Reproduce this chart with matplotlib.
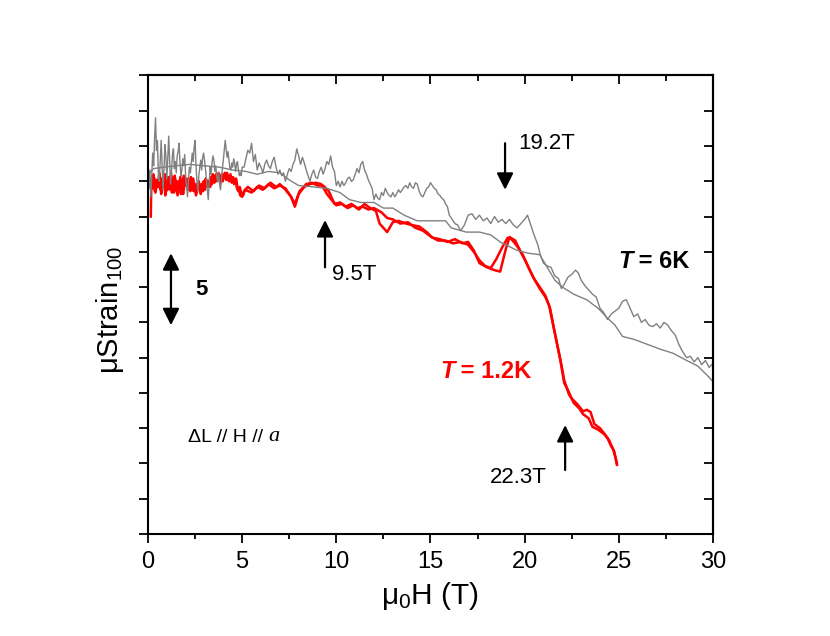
import matplotlib
matplotlib.use("Agg")
import matplotlib.pyplot as plt
from matplotlib.ticker import MultipleLocator, NullFormatter

plt.rcParams['font.family'] = ['Liberation Sans', 'DejaVu Sans']
plt.rcParams['mathtext.fontset'] = 'custom'
plt.rcParams['mathtext.rm'] = 'Liberation Sans'
plt.rcParams['mathtext.it'] = 'Liberation Sans:italic'
plt.rcParams['mathtext.bf'] = 'Liberation Sans:bold'

# T = 1.2K, up sweep (field in T, strain, 2 ticks = 5)
red_up_x = [0.15, 0.18, 0.25, 0.32, 0.4, 0.48, 0.55, 0.62, 0.7, 0.78, 0.85, 0.92, 1.0, 1.08, 1.15,
            1.22, 1.3, 1.38, 1.45, 1.52, 1.6, 1.68, 1.75, 1.82, 1.9, 1.98, 2.05, 2.12, 2.2, 2.28,
            2.35, 2.42, 2.5, 2.58, 2.65, 2.72, 2.8, 2.88, 2.95, 3.02, 3.1, 3.18, 3.25, 3.32, 3.4,
            3.48, 3.55, 3.62, 3.7, 3.78, 3.85, 3.92, 4.0, 4.08, 4.15, 4.22, 4.3, 4.38, 4.45, 4.52,
            4.6, 4.68, 4.75, 4.82, 4.9, 5.0, 5.1, 5.3,
            5.6, 5.9, 6.2, 6.5, 6.8, 7.0, 7.3, 7.6, 7.8, 8.0, 8.3, 8.6, 8.9, 9.2, 9.5, 9.8,
            10.0, 10.3, 10.6, 10.9, 11.2, 11.5, 11.8, 12.1, 12.3, 12.7, 13.0, 13.3, 13.7,
            14.0, 14.4, 14.8, 15.1, 15.5, 15.9, 16.3, 16.7, 17.0, 17.3, 17.6, 18.0, 18.4,
            18.7, 19.0, 19.2, 19.5, 19.75, 20.1, 20.45, 20.8, 21.1, 21.3, 21.5, 21.7, 21.9,
            22.1, 22.3, 22.6, 22.9, 23.1, 23.4, 23.6, 23.9, 24.2, 24.4, 24.6, 24.75, 24.9]
red_up_y = [22.5, 25.2, 24.5, 25.3, 24.2, 25.0, 24.6, 25.5, 24.1, 24.9, 25.4, 24.0, 24.8, 25.3, 24.4,
            25.6, 24.9, 24.2, 25.1, 24.3, 25.0, 24.6, 24.1, 24.8, 25.4, 24.7, 25.2, 24.4, 24.9, 25.3,
            24.5, 24.3, 24.8, 24.2, 24.9, 24.5, 24.1, 24.7, 25.0, 24.4, 25.1, 24.6, 24.9, 25.3, 24.8,
            25.4, 25.0, 25.5, 25.1, 25.4, 24.9, 25.5, 25.2, 25.6, 25.1, 25.4, 25.0, 25.5, 24.9, 25.3,
            25.0, 25.2, 24.6, 24.4, 24.0, 23.9, 24.3, 24.6,
            24.3, 24.7, 24.5, 24.9, 24.6, 24.8, 24.4, 23.9, 23.2, 24.1, 24.6, 24.8, 24.9, 24.8, 24.1, 23.6,
            23.3, 23.4, 23.1, 23.3, 23.0, 23.4, 23.1, 22.9, 22.0, 21.4, 22.1, 22.2, 22.0,
            21.9, 21.8, 21.4, 21.0, 20.9, 20.7, 20.9, 20.6, 20.7, 20.1, 19.2, 18.9, 18.7,
            18.6, 20.2, 21.05, 20.8, 20.1, 19.2, 18.2, 17.4, 16.8, 16.2, 14.9, 13.6, 12.3,
            10.7, 10.2, 9.3, 8.9, 8.5, 8.2, 7.6, 7.4, 7.1, 6.8, 6.2, 5.9, 4.9]

# T = 1.2K, down sweep
red_dn_x = [0.2, 0.28, 0.36, 0.44, 0.52, 0.6, 0.67, 0.74, 0.82, 0.9, 0.97, 1.05, 1.12, 1.2, 1.27,
            1.35, 1.42, 1.5, 1.57, 1.65, 1.72, 1.8, 1.87, 1.95, 2.02, 2.1, 2.17, 2.25, 2.32, 2.4,
            2.47, 2.55, 2.62, 2.7, 2.77, 2.85, 2.92, 3.0, 3.07, 3.15, 3.22, 3.3, 3.37, 3.45, 3.52,
            3.6, 3.67, 3.75, 3.82, 3.9, 3.97, 4.05, 4.12, 4.2, 4.27, 4.35, 4.42, 4.5, 4.57, 4.65,
            4.72, 4.8, 4.87, 4.95, 5.05, 5.15, 5.5, 5.8,
            6.1, 6.4, 6.7, 7.0, 7.3, 7.55, 7.8, 8.05, 8.4, 8.7, 9.0, 9.3, 9.6, 9.9, 10.2,
            10.5, 10.8, 11.1, 11.4, 11.7, 12.0, 12.4, 12.7, 13.0, 13.4, 13.8, 14.2, 14.6,
            15.0, 15.4, 15.8, 16.2, 16.6, 17.0, 17.3, 17.6, 17.9, 18.2, 18.5, 18.8, 19.1,
            19.3, 19.6, 19.9, 20.2, 20.5, 20.8, 21.1, 21.35, 21.55, 21.75, 21.95, 22.1,
            22.35, 22.5, 22.8, 23.1, 23.3, 23.5, 23.7, 24.0, 24.3, 24.5, 24.7, 24.85, 24.9]
red_dn_y = [24.8, 25.5, 24.3, 25.1, 24.6, 25.6, 24.4, 25.2, 24.6, 25.5, 24.3, 25.0, 24.5, 25.3, 24.2,
            24.8, 25.4, 24.6, 24.0, 24.7, 25.3, 24.5, 24.1, 24.9, 25.1, 24.5, 25.0, 24.3, 24.7, 25.2,
            24.6, 24.0, 24.6, 25.0, 24.4, 24.8, 24.3, 24.9, 25.2, 24.7, 25.0, 24.6, 25.2, 25.5, 24.9,
            25.3, 25.0, 25.6, 25.2, 25.4, 25.0, 25.5, 25.3, 25.6, 25.1, 25.4, 25.0, 25.2, 24.8, 25.1,
            24.5, 24.3, 24.6, 24.2, 24.0, 24.4, 24.2, 24.6,
            24.4, 24.8, 24.5, 24.7, 24.5, 24.0, 23.4, 24.3, 24.8, 24.9, 24.7, 24.7, 24.3, 23.4, 23.5,
            23.2, 23.4, 23.1, 23.2, 23.0, 23.1, 22.8, 22.4, 22.3, 22.0, 22.1, 21.7, 21.5,
            21.1, 20.8, 20.8, 20.6, 20.7, 20.5, 20.0, 19.4, 19.0, 18.85, 19.5, 20.3, 21.0,
            20.9, 20.4, 19.8, 18.9, 18.1, 17.5, 16.9, 16.0, 14.6, 13.3, 12.0, 10.9,
            9.9, 9.6, 9.2, 8.7, 8.8, 8.65, 7.8, 7.5, 7.0, 6.6, 6.0, 5.3, 5.0]

# T = 6K, smooth sweep
gray_sm_x = [0.0, 0.3, 0.8, 1.5, 2.2, 3.0, 3.8, 4.5, 5.2, 5.8, 6.4, 7.0, 7.5, 8.0, 8.8, 9.5,
             10.2, 10.7, 11.3, 12.0, 12.5, 13.0, 13.6, 14.3, 15.3, 15.8, 16.1, 16.9, 17.6,
             18.2, 18.7, 19.3, 19.6, 20.2, 20.8, 21.2, 21.6, 22.0, 22.6, 23.3, 23.9, 24.4,
             24.8, 25.2, 25.8, 26.4, 27.2, 27.9, 28.6, 29.2, 29.8, 30.0]
gray_sm_y = [25.5, 25.9, 26.0, 26.1, 26.2, 26.1, 26.0, 25.8, 25.7, 25.5, 25.7, 25.6, 25.1, 24.7, 24.6, 24.5,
             24.2, 23.7, 23.5, 23.5, 23.1, 23.1, 22.6, 22.2, 22.2, 22.2, 21.7, 21.4, 21.4,
             21.2, 20.7, 20.3, 20.1, 19.9, 19.8, 18.9, 18.0, 17.5, 17.0, 16.6, 16.0, 15.3,
             14.8, 14.0, 13.8, 13.5, 13.1, 12.8, 12.3, 11.9, 11.1, 10.8]

# T = 6K, noisy sweep
gray_ns_x = [0.05, 0.1, 0.15, 0.2, 0.25, 0.3, 0.35, 0.4, 0.45, 0.5, 0.55, 0.6, 0.65, 0.7, 0.75,
             0.8, 0.85, 0.9, 0.95, 1.0, 1.05, 1.1, 1.15, 1.2, 1.25, 1.3, 1.35, 1.4, 1.45, 1.5,
             1.55, 1.6, 1.65, 1.7, 1.75, 1.8, 1.85, 1.9, 1.95, 2.0, 2.05, 2.1, 2.15, 2.2, 2.25,
             2.3, 2.35, 2.4, 2.45, 2.5, 2.55, 2.6, 2.65, 2.7, 2.75, 2.8, 2.85, 2.9, 2.95, 3.0,
             3.05, 3.1, 3.15, 3.2, 3.25, 3.3, 3.35, 3.4, 3.45, 3.5, 3.55, 3.6, 3.65, 3.7, 3.75,
             3.8, 3.85, 3.9, 3.95, 4.0, 4.05, 4.1, 4.15, 4.2, 4.25, 4.3, 4.35, 4.4, 4.45, 4.5,
             4.55, 4.6, 4.65, 4.7, 4.75, 4.8, 4.85, 4.9, 4.95, 5.0,
             5.1, 5.2, 5.3, 5.4, 5.5, 5.6, 5.7, 5.8, 5.9, 6.0, 6.1, 6.2, 6.3, 6.4, 6.5, 6.6,
             6.7, 6.8, 6.9, 7.0, 7.1, 7.2, 7.3, 7.4, 7.5, 7.6, 7.7, 7.8, 7.9, 8.0, 8.1, 8.2,
             8.3, 8.4, 8.5, 8.6, 8.7, 8.8, 8.9, 9.0, 9.1, 9.2, 9.3, 9.4, 9.5, 9.6, 9.7, 9.8,
             9.9, 10.0, 10.1, 10.2, 10.3, 10.4, 10.5, 10.6, 10.7, 10.8, 10.9, 11.0, 11.1, 11.2,
             11.3, 11.4, 11.5, 11.6, 11.7, 11.8, 11.9, 12.0, 12.1, 12.2, 12.3, 12.4, 12.5, 12.6,
             12.7, 12.8, 12.9, 13.0, 13.1, 13.2, 13.3, 13.4, 13.5, 13.6, 13.7, 13.8, 13.9, 14.0,
             14.1, 14.2, 14.3, 14.4, 14.5, 14.6, 14.7, 14.8, 14.9, 15.0, 15.1, 15.2, 15.3, 15.4,
             15.5, 15.6, 15.7, 15.8, 15.9, 16.0,
             16.1, 16.3, 16.45, 16.6, 16.8, 17.0, 17.2, 17.4, 17.6, 17.8, 18.0, 18.2, 18.4,
             18.6, 18.8, 19.0, 19.2, 19.4, 19.6, 19.8, 20.0, 20.15, 20.3, 20.5, 20.7, 20.85,
             21.0, 21.2, 21.4, 21.6, 21.8, 21.95, 22.1, 22.3, 22.5, 22.7, 22.85, 23.0, 23.2,
             23.4, 23.6, 23.8, 24.0, 24.2, 24.4, 24.6, 24.8, 25.0, 25.2, 25.4, 25.6, 25.8,
             26.0, 26.2, 26.4, 26.6, 26.8, 27.0, 27.2, 27.4, 27.6, 27.8, 28.0, 28.2, 28.4,
             28.6, 28.8, 29.0, 29.2, 29.4, 29.6, 29.8, 30.0]
gray_ns_y = [24.5, 25.8, 23.9, 25.5, 27.0, 26.1, 28.0, 29.5, 27.2, 27.9, 25.6, 25.0, 26.4, 27.9, 26.2,
             24.4, 25.9, 27.6, 26.8, 25.2, 26.6, 28.2, 26.5, 24.8, 25.7, 26.9, 27.3, 25.9, 26.4, 25.6,
             26.8, 27.1, 27.7, 26.3, 25.4, 25.8, 26.6, 26.1, 26.9, 25.3, 24.6, 23.9, 25.2, 26.0, 25.6,
             26.3, 27.0, 26.4, 27.4, 27.9, 26.1, 25.0, 24.3, 25.4, 26.0, 26.5, 25.8, 26.7, 27.0, 26.5,
             25.9, 25.2, 24.4, 23.7, 24.9, 26.0, 25.5, 26.3, 26.8, 26.5, 25.7, 26.1, 25.3, 25.0, 25.6,
             24.8, 24.4, 25.1, 25.9, 26.5, 27.2, 27.9, 27.3, 26.7, 27.1, 26.5, 25.9, 25.8, 26.3, 26.0,
             26.6, 26.3, 25.7, 26.2, 26.4, 25.8, 25.4, 25.6, 25.4, 26.0,
             26.0, 26.6, 27.2, 27.0, 27.7, 26.4, 26.9, 25.8, 26.3, 26.0, 25.6, 26.2, 26.5, 26.1, 25.9, 26.4,
             26.7, 26.0, 25.5, 25.8, 25.4, 25.6, 25.0, 25.5, 25.9, 25.7, 26.2, 26.5, 27.3, 26.8, 26.2, 26.7,
             26.3, 25.8, 25.4, 25.0, 25.5, 25.8, 25.3, 25.2, 25.7, 26.0, 25.5, 25.9, 26.4, 26.2, 26.8, 26.0,
             25.7, 24.7, 25.0, 24.6, 25.0, 24.7, 24.9, 25.2, 25.3, 25.0, 25.1, 25.5, 25.9, 25.6,
             26.2, 26.4, 25.8, 25.5, 25.1, 24.8, 24.5, 23.7, 24.1, 23.8, 23.7, 24.2, 24.0, 24.5,
             24.2, 24.0, 23.9, 24.2, 23.9, 24.1, 24.4, 24.2, 24.4, 24.6, 24.7, 24.5, 24.9, 24.6,
             24.5, 24.9, 24.8, 24.3, 24.0, 23.9, 24.2, 24.5, 24.6, 24.9, 24.7, 24.5, 24.4, 24.1,
             24.0, 23.8, 23.7, 23.4, 23.2, 22.6,
             22.4, 22.0, 21.9, 21.5, 21.9, 22.6, 22.7, 22.3, 22.6, 22.2, 22.4, 22.0, 22.5,
             22.1, 22.3, 22.0, 22.3, 21.9, 21.7, 22.0, 22.3, 22.6, 22.0, 21.2, 20.5, 19.7,
             19.2, 19.0, 18.9, 18.3, 18.1, 17.4, 17.7, 18.2, 18.4, 18.7, 18.5, 18.0, 17.6,
             17.3, 17.0, 16.8, 16.0, 15.7, 15.2, 15.6, 15.8, 16.0, 16.5, 16.6, 16.0, 15.4,
             15.6, 15.0, 15.2, 14.8, 14.7, 14.9, 14.6, 15.0, 14.8, 14.4, 14.1, 13.4, 12.9,
             12.5, 12.6, 12.2, 12.5, 12.0, 12.3, 11.8, 12.1]

fig = plt.figure(figsize=(8.3, 6.36), dpi=100)
ax = fig.add_axes([0.1783, 0.1604, 0.6807, 0.7209])

ax.plot(red_up_x, red_up_y, color='#ff0000', lw=1.8)
ax.plot(red_dn_x, red_dn_y, color='#ff0000', lw=1.8)
ax.plot(gray_sm_x, gray_sm_y, color='#808080', lw=1.0)
ax.plot(gray_ns_x, gray_ns_y, color='#808080', lw=1.0)

ax.set_xlim(0, 30)
ax.set_ylim(0, 32.5)
ax.xaxis.set_major_locator(MultipleLocator(5))
ax.xaxis.set_minor_locator(MultipleLocator(2.5))
ax.yaxis.set_major_locator(MultipleLocator(2.5))
ax.yaxis.set_major_formatter(NullFormatter())
ax.tick_params(axis='both', which='major', direction='out', length=6.5, width=1.3, labelsize=17, pad=6)
ax.tick_params(axis='x', which='minor', direction='out', length=3.5, width=1.3)
for s in ax.spines.values():
    s.set_linewidth(1.5)

top = ax.secondary_xaxis('top')
top.xaxis.set_major_locator(MultipleLocator(5))
top.xaxis.set_minor_locator(MultipleLocator(2.5))
top.tick_params(which='major', direction='in', length=6.5, width=1.3, labeltop=False)
top.tick_params(which='minor', direction='in', length=4, width=1.3)
top.spines['top'].set_linewidth(1.5)
right = ax.secondary_yaxis('right')
right.yaxis.set_major_locator(MultipleLocator(2.5))
right.tick_params(which='major', direction='in', length=6.5, width=1.3, labelright=False)
right.spines['right'].set_linewidth(1.5)

ax.set_xlabel(r'$\mathregular{\mu_0}$H (T)', fontsize=21.5, labelpad=5)
ax.set_ylabel(r'$\mathregular{\mu Strain_{100}}$', fontsize=21, labelpad=3, y=0.488)

arrow = '-|>,head_length=0.5,head_width=0.25'
ap = dict(arrowstyle=arrow, mutation_scale=20, lw=1.6, color='black', shrinkA=0, shrinkB=0)

# transition markers
ax.annotate('', xy=(18.96, 24.4), xytext=(18.96, 27.7), arrowprops=ap)
ax.text(19.65, 27.7, '19.2T', fontsize=16, va='center', ha='left')
ax.annotate('', xy=(9.4, 22.25), xytext=(9.4, 18.9), arrowprops=ap)
ax.text(9.77, 18.36, '9.5T', fontsize=16, va='center', ha='left')
ax.annotate('', xy=(22.15, 7.72), xytext=(22.15, 4.54), arrowprops=ap)
ax.text(18.16, 3.97, '22.3T', fontsize=16, va='center', ha='left')

# scale bar
ap2 = dict(ap, arrowstyle='<|-|>,head_length=0.5,head_width=0.25')
ax.annotate('', xy=(1.22, 19.9), xytext=(1.22, 14.8), arrowprops=ap2)
ax.text(2.5, 17.3, '5', fontsize=16, fontweight='bold', va='center', ha='left')

# temperature labels
t1 = ax.text(24.96, 19.3, 'T', fontsize=17, fontweight='bold', style='italic', va='center', ha='left')
ax.annotate(' = 6K', xy=(1, 0), xycoords=t1, fontsize=17, fontweight='bold', va='bottom', ha='left')
t2 = ax.text(15.5, 11.5, 'T', fontsize=17, fontweight='bold', style='italic', va='center', ha='left',
             color='#ff0000')
ax.annotate(' = 1.2K', xy=(1, 0), xycoords=t2, fontsize=17, fontweight='bold', va='bottom', ha='left',
            color='#ff0000')

t3 = ax.text(2.12, 6.87, '\u0394L // H // ', fontsize=14, va='center', ha='left')
ax.annotate('a', xy=(1, 0), xycoords=t3, fontsize=16, style='italic', va='bottom', ha='left',
            family='Liberation Serif')

fig.savefig('out.png', dpi=100)
